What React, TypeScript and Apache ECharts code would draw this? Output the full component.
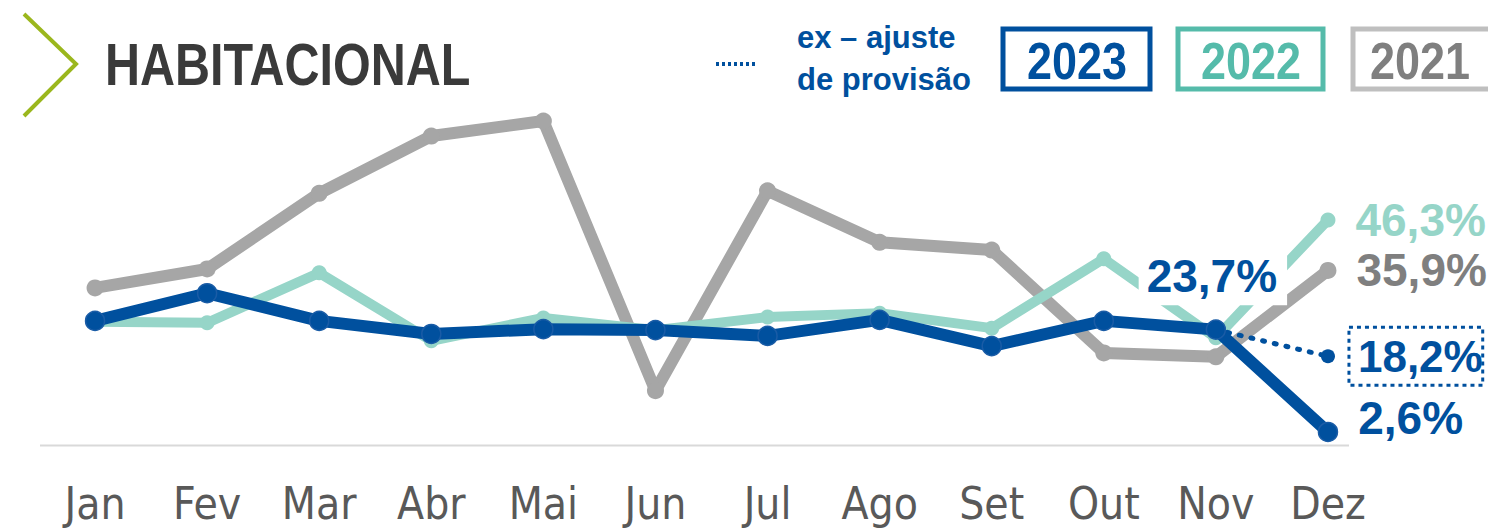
import React, { useEffect, useRef } from "react";
import * as echarts from "echarts";

const months = ["Jan", "Fev", "Mar", "Abr", "Mai", "Jun", "Jul", "Ago", "Set", "Out", "Nov", "Dez"];
const v2023 = [25.5, 31.2, 25.5, 22.8, 23.8, 23.6, 22.4, 25.7, 20.3, 25.5, 23.7, 2.6];
const v2022 = [25.3, 25.1, 35.4, 21.4, 26.1, 23.6, 26.3, 27.1, 24.0, 38.3, 22.0, 46.3];
const v2021 = [32.3, 36.2, 51.8, 63.6, 66.7, 11.1, 52.3, 41.7, 40.1, 18.9, 18.1, 35.9];
const exAjuste = [null, null, null, null, null, null, null, null, null, null, 23.7, 18.2];

const BLUE = "#00509E";
const TEAL = "#96D5C8";
const TEAL_DARK = "#55BBAA";
const GRAY = "#A6A6A6";
const GRAY_TXT = "#7F7F7F";
const FONT = "'DejaVu Sans Condensed', 'Liberation Sans Narrow', 'DejaVu Sans', sans-serif";
const FONT_B = "'Liberation Sans', Arial, sans-serif";

const fmt = (v: number) => v.toFixed(1).replace(".", ",") + "%";

export default function App() {
  const ref = useRef<HTMLDivElement>(null);
  useEffect(() => {
    if (!ref.current) return;
    const chart = echarts.init(ref.current, null, { renderer: "svg" });
    const last = months.length - 1;
    const lbl = (color: string, extra: any = {}) => ({
      show: true,
      color,
      fontSize: 46,
      fontWeight: "bold",
      fontFamily: FONT_B,
      position: "right",
      distance: 22,
      formatter: (p: any) => fmt(p.value),
      ...extra,
    });
    chart.setOption({
      animation: false,
      backgroundColor: "#ffffff",
      grid: { left: 39, right: 104, top: 105, bottom: 86.4 },
      xAxis: {
        type: "category",
        data: months,
        boundaryGap: true,
        axisLine: { show: false },
        axisTick: { show: false },
        axisLabel: { color: "#595959", fontSize: 44, lineHeight: 38, fontFamily: FONT, margin: 40 },
      },
      yAxis: { type: "value", min: 0, max: 70, show: false, splitLine: { show: false } },
      graphic: [
        { type: "line", shape: { x1: 40, y1: 445.5, x2: 1349, y2: 445.5 }, style: { stroke: "#D9D9D9", lineWidth: 2 } },
        { type: "polyline", shape: { points: [[24, 14], [76, 64], [24, 116]] }, style: { stroke: "#9BB71D", lineWidth: 4, fill: null } },
        { type: "text", x: 105, y: 65, scaleY: 1.24, style: { text: "HABITACIONAL", fill: "#3A3A3A", font: `bold 48.5px ${FONT_B}`, textVerticalAlign: "middle" } },
        { type: "line", shape: { x1: 716, y1: 64, x2: 757, y2: 64 }, style: { stroke: BLUE, lineWidth: 4, lineDash: [3, 3] } },
        { type: "text", x: 797, y: 37, style: { text: "ex – ajuste", fill: BLUE, font: `bold 31px ${FONT_B}`, textVerticalAlign: "middle" } },
        { type: "text", x: 797, y: 79, style: { text: "de provisão", fill: BLUE, font: `bold 31px ${FONT_B}`, textVerticalAlign: "middle" } },
        { type: "rect", shape: { x: 1003, y: 29, width: 147, height: 60 }, style: { stroke: BLUE, lineWidth: 5, fill: "#fff" } },
        { type: "text", x: 1077, y: 61, scaleY: 1.15, style: { text: "2023", fill: BLUE, font: `bold 45px ${FONT_B}`, textAlign: "center", textVerticalAlign: "middle" } },
        { type: "rect", shape: { x: 1178, y: 29, width: 145, height: 60 }, style: { stroke: TEAL_DARK, lineWidth: 5, fill: "#fff" } },
        { type: "text", x: 1251, y: 61, scaleY: 1.15, style: { text: "2022", fill: TEAL_DARK, font: `bold 45px ${FONT_B}`, textAlign: "center", textVerticalAlign: "middle" } },
        { type: "rect", shape: { x: 1353, y: 29, width: 150, height: 60 }, style: { stroke: "#BFBFBF", lineWidth: 5, fill: "#fff" } },
        { type: "text", x: 1420, y: 61, scaleY: 1.15, style: { text: "2021", fill: GRAY_TXT, font: `bold 45px ${FONT_B}`, textAlign: "center", textVerticalAlign: "middle" } },
      ],
      series: [
        {
          name: "2021",
          type: "line",
          data: v2021.map((v, i) =>
            i === last ? { value: v, label: lbl(GRAY_TXT, { distance: 20 }) } : v
          ),
          symbol: "circle",
          symbolSize: 17,
          itemStyle: { color: GRAY },
          lineStyle: { color: GRAY, width: 12 },
          z: 2,
        },
        {
          name: "2022",
          type: "line",
          data: v2022.map((v, i) =>
            i === last ? { value: v, label: lbl(TEAL, { distance: 20 }) } : v
          ),
          symbol: "circle",
          symbolSize: 15,
          itemStyle: { color: TEAL },
          lineStyle: { color: TEAL, width: 10 },
          z: 3,
        },
        {
          name: "ex – ajuste de provisão",
          type: "line",
          data: exAjuste.map((v, i) =>
            i === last
              ? {
                  value: v,
                  symbol: "circle",
                  symbolSize: 14,
                  label: lbl(BLUE, {
                    fontSize: 44,
                    distance: 14,
                    borderColor: BLUE,
                    borderWidth: 3,
                    borderType: [4, 4],
                    padding: [7, 0, 7, 9],
                  }),
                }
              : { value: v, symbol: "none" }
          ),
          symbol: "none",
          itemStyle: { color: BLUE },
          lineStyle: { color: BLUE, width: 5, type: [2, 10], cap: "round" },
          z: 4,
        },
        {
          name: "2023",
          type: "line",
          data: v2023.map((v, i) =>
            i === last
              ? { value: v, label: lbl(BLUE, { distance: 20, offset: [0, -14] }) }
              : i === last - 1
              ? {
                  value: v,
                  label: lbl(BLUE, {
                    position: "top",
                    distance: 14,
                    offset: [-3, 0],
                    backgroundColor: "#ffffff",
                    padding: [10, 10, 6, 8],
                  }),
                }
              : v
          ),
          symbol: "circle",
          symbolSize: 19,
          itemStyle: { color: BLUE, borderColor: "#1A5CA6", borderWidth: 1.5 },
          lineStyle: { color: BLUE, width: 12 },
          z: 5,
        },
      ],
    });
    return () => chart.dispose();
  }, []);
  return <div ref={ref} style={{ position: "fixed", left: 0, top: 0, width: 1488, height: 531 }} />;
}
